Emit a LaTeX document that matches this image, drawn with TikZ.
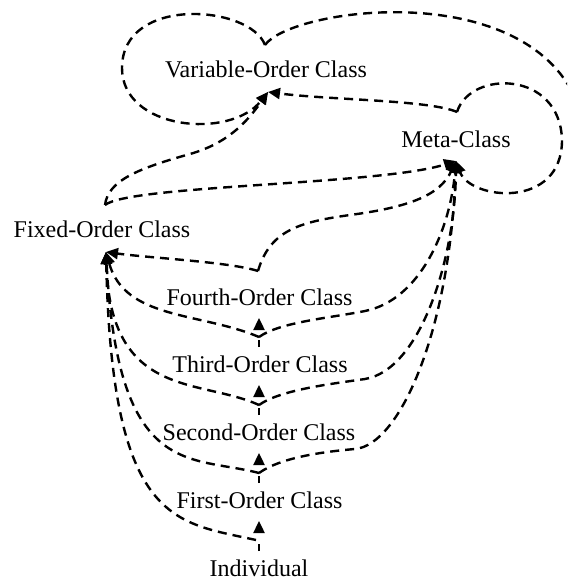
\documentclass[tikz,border=0pt]{standalone}
\usepackage{fontspec}
\setmainfont{Liberation Serif}
\usetikzlibrary{arrows.meta,calc}
\begin{document}
\begin{tikzpicture}[x=1pt,y=-1pt,
  lbl/.style={inner sep=0pt, anchor=base, font=\fontsize{24}{28}\selectfont},
  edge/.style={line width=2.4pt, dash pattern=on 9pt off 6pt,
    -{Triangle[length=12pt,width=11pt]}},
  short/.style={edge, dash pattern=on 7pt off 30pt}]
\useasboundingbox (0,0) rectangle (567,583);
\clip (0,0) rectangle (567,583);
% nodes
\node[lbl] (voc) at (266,78) {Variable-Order Class};
\node[lbl] (meta) at (456,147) {Meta-Class};
\node[lbl] (foc) at (102,237) {Fixed-Order Class};
\node[lbl] (fourth) at (259.5,305) {Fourth-Order Class};
\node[lbl] (third) at (260,372) {Third-Order Class};
\node[lbl] (second) at (259,440) {Second-Order Class};
\node[lbl] (first) at (259.5,508) {First-Order Class};
\node[lbl] (indiv) at (259,576) {Individual};
% connector ends
\coordinate (vocT) at ($(voc.base)+(-1,-33)$);
\coordinate (vocH) at ($(voc.base)+(2,14)$);
\coordinate (metaT) at ($(meta.base)+(1,-35)$);
\coordinate (metaH) at ($(meta.base)+(0,14)$);
\coordinate (focT) at ($(foc.base)+(3,-32)$);
\coordinate (focH) at ($(foc.base)+(4,15)$);
\coordinate (fourthT) at ($(fourth.base)+(-1.5,-34)$);
\coordinate (fourthH) at ($(fourth.base)+(-0.5,13)$);
\coordinate (thirdT) at ($(third.base)+(-1,-35)$);
\coordinate (thirdS) at ($(third.base)+(-1,-25)$);
\coordinate (thirdH) at ($(third.base)+(-1,13)$);
\coordinate (secondT) at ($(second.base)+(0,-35)$);
\coordinate (secondS) at ($(second.base)+(0,-25)$);
\coordinate (secondH) at ($(second.base)+(0,13)$);
\coordinate (firstT) at ($(first.base)+(-0.5,-35)$);
\coordinate (firstS) at ($(first.base)+(-0.5,-25)$);
\coordinate (firstH) at ($(first.base)+(-0.5,13)$);
\coordinate (indivT) at ($(indiv.base)+(-3,-36)$);
\coordinate (indivS) at ($(indiv.base)+(0,-25)$);
\coordinate (offR) at (590,118);
% connectors
\draw[edge] (vocT) .. controls (250,5) and (122,-5) .. (122,68)
  .. controls (122,130) and (230,140) .. (vocH);
\draw[edge,-] (vocT) .. controls (290,10) and (500,-20) .. (567,83) -- (offR);
\draw[edge] (metaT) .. controls (470,70) and (560,70) .. (562,140)
  .. controls (562,210) and (470,200) .. (metaH);
\draw[edge] (metaT) .. controls (430,100) and (330,100) .. (vocH);
\draw[edge] (focT) .. controls (108,180) and (140,168) .. (190,154)
  .. controls (225,144) and (245,125) .. (vocH);
\draw[edge] (focT) .. controls (130,185) and (380,185) .. (metaH);
\draw[edge] (fourthT) .. controls (270,230) and (300,222) .. (350,215)
  .. controls (410,207) and (440,195) .. (metaH);
\draw[edge] (fourthT) .. controls (230,262) and (150,258) .. (focH);
\draw[short] (thirdS) -- (fourthH);
\draw[edge] (thirdT) .. controls (200,312) and (125,320) .. (focH);
\draw[edge] (thirdT) .. controls (280,322) and (330,318) .. (365,311)
  .. controls (420,300) and (450,230) .. (metaH);
\draw[short] (secondS) -- (thirdH);
\draw[edge] (secondT) .. controls (200,378) and (110,400) .. (focH);
\draw[edge] (secondT) .. controls (280,390) and (330,384) .. (365,379)
  .. controls (420,370) and (455,260) .. (metaH);
\draw[short] (firstS) -- (secondH);
\draw[edge] (firstT) .. controls (190,455) and (118,480) .. (focH);
\draw[edge] (firstT) .. controls (280,458) and (320,452) .. (355,449)
  .. controls (400,445) and (450,330) .. (metaH);
\draw[short] (indivS) -- (firstH);
\draw[edge] (indivT) .. controls (175,522) and (112,525) .. (focH);
\end{tikzpicture}
\end{document}
